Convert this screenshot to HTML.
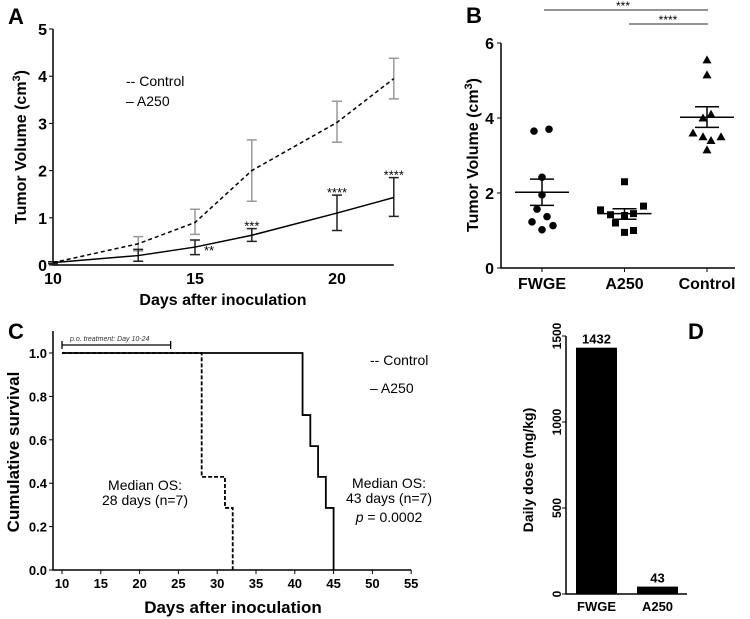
<!DOCTYPE html>
<html><head><meta charset="utf-8"><style>
body{margin:0;background:#fff}
svg{display:block;font-family:"Liberation Sans",Arial,sans-serif}
.b{font-weight:bold}
</style></head><body>
<svg id="s" width="750" height="619" viewBox="0 0 750 619">
<g id="A"></g>
<g id="B"></g>
<g id="C"></g>
<g id="D"></g>
</svg>
<script>
// Panel A data
const aDays=[10,13,15,17,20,22];
const aControl=[0.05,0.45,0.9,2.0,3.02,3.95];
const aControlLo=[0.03,0.3,0.65,1.35,2.6,3.52];
const aControlHi=[0.07,0.6,1.18,2.65,3.47,4.38];
const aA250=[0.05,0.2,0.38,0.63,1.1,1.43];
const aA250Lo=[0.03,0.08,0.22,0.5,0.73,1.03];
const aA250Hi=[0.07,0.33,0.53,0.77,1.48,1.85];
const aStars=["","","**","***","****","****"];
const aYTicks=[0,1,2,3,4,5];
const aXTicks=[10,15,20];
// Panel B data
const bCats=["FWGE","A250","Control"];
const bFWGE=[3.65,3.7,2.42,1.95,1.57,1.37,1.23,1.13,1.02];
const bA250=[2.3,1.65,1.55,1.45,1.42,1.4,1.2,1.0,0.95];
const bControl=[5.55,5.15,4.1,4.0,3.6,3.5,3.5,3.4,3.15];
const bMean=[2.02,1.45,4.02];
const bSemLo=[1.67,1.3,3.75];
const bSemHi=[2.37,1.58,4.3];
const bYTicks=[0,2,4,6];
// Panel C data
const cControlT=[10,28,31,32];
const cControlS=[1,0.429,0.286,0];
const cA250T=[10,41,42,43,44,45];
const cA250S=[1,0.714,0.571,0.429,0.286,0];
const cXTicks=[10,15,20,25,30,35,40,45,50,55];
const cYTicks=[0,0.2,0.4,0.6,0.8,1.0];
// Panel D data
const dCats=["FWGE","A250"];
const dVals=[1432,43];
const dYTicks=[0,500,1000,1500];

const NS="http://www.w3.org/2000/svg";
function mk(p,tag,at,txt){const e=document.createElementNS(NS,tag);for(const k in at)e.setAttribute(k,at[k]);if(txt!==undefined)e.textContent=txt;p.appendChild(e);return e;}

// ---- Panel A
const A=document.getElementById('A');
const ax=d=>53+(d-10)*28.4, ay=v=>265-v*47.2;
let e;
e=mk(A,'text',{x:8,y:24,'font-size':22,class:'b'},'A');
e=mk(A,'path',{d:`M53,29V265H${ax(22)}`,stroke:'#000','stroke-width':1.5,fill:'none'});
aYTicks.forEach(t=>{e=mk(A,'text',{x:47,y:ay(t)+6,'font-size':16,'text-anchor':'end',class:'b'},t);mk(A,'line',{x1:49,x2:53,y1:ay(t),y2:ay(t),stroke:'#000'});});
aXTicks.forEach(t=>{e=mk(A,'text',{x:ax(t),y:284,'font-size':16,'text-anchor':'middle',class:'b'},t);});
e=mk(A,'text',{x:223,y:305,'font-size':16,'text-anchor':'middle',class:'b'},'Days after inoculation');
e=mk(A,'text',{transform:'translate(26,147) rotate(-90)','font-size':16,'text-anchor':'middle',class:'b'});
e.innerHTML='Tumor Volume (cm<tspan dy="-6" font-size="11">3</tspan><tspan dy="6">)</tspan>';
function errs(days,lo,hi,col){days.forEach((d,i)=>{const x=ax(d);e=mk(A,'path',{d:`M${x},${ay(lo[i])}V${ay(hi[i])}M${x-5},${ay(lo[i])}h10M${x-5},${ay(hi[i])}h10`,stroke:col,'stroke-width':1.5,fill:'none'});});}
errs(aDays,aControlLo,aControlHi,'#999');
errs(aDays,aA250Lo,aA250Hi,'#222');
e=mk(A,'path',{d:'M'+aDays.map((d,i)=>ax(d)+','+ay(aControl[i])).join('L'),stroke:'#000','stroke-width':1.5,fill:'none','stroke-dasharray':'4,3'});
e=mk(A,'path',{d:'M'+aDays.map((d,i)=>ax(d)+','+ay(aA250[i])).join('L'),stroke:'#000','stroke-width':1.5,fill:'none'});
aDays.forEach((d,i)=>{if(!aStars[i])return;const x=i==2?ax(d)+14:ax(d);const y=i==2?ay(aA250[i])+2:ay(aA250Hi[i])-4;e=mk(A,'text',{x:x,y:y+6,'font-size':13,'text-anchor':'middle'},aStars[i]);});
e=mk(A,'text',{x:126,y:86,'font-size':14},'-- Control');
e=mk(A,'text',{x:126,y:106,'font-size':14},'– A250');

// ---- Panel B
const B=document.getElementById('B');
const bx=i=>542+i*82.5, by=v=>268-v*37.5;
e=mk(B,'text',{x:466,y:23,'font-size':22,class:'b'},'B');
e=mk(B,'path',{d:'M501,43V268H735',stroke:'#000','stroke-width':1.5,fill:'none'});
bYTicks.forEach(t=>{e=mk(B,'text',{x:494,y:by(t)+6,'font-size':16,'text-anchor':'end',class:'b'},t);mk(B,'line',{x1:497,x2:501,y1:by(t),y2:by(t),stroke:'#000'});});
bCats.forEach((c,i)=>{e=mk(B,'text',{x:bx(i),y:289,'font-size':16,'text-anchor':'middle',class:'b'},c);mk(B,'line',{x1:bx(i),x2:bx(i),y1:268,y2:272,stroke:'#000'});});
e=mk(B,'text',{transform:'translate(478,155) rotate(-90)','font-size':16,'text-anchor':'middle',class:'b'});
e.innerHTML='Tumor Volume (cm<tspan dy="-6" font-size="11">3</tspan><tspan dy="6">)</tspan>';
const offs=[[-8,7,0,0,-5,5,-10,11,0],[0,19,-24,9,-14,0,-9,9,0],[0,0,4,-4,-14,-4,14,4,0]];
[bFWGE,bA250,bControl].forEach((arr,g)=>{arr.forEach((v,k)=>{const x=bx(g)+(offs[g][k]||0),y=by(v);
if(g==0)e=mk(B,'circle',{cx:x,cy:y,r:3.8,fill:'#000'});
else if(g==1)e=mk(B,'rect',{x:x-3.5,y:y-3.5,width:7,height:7,fill:'#000'});
else e=mk(B,'path',{d:`M${x},${y-4.5}L${x+4.5},${y+3.5}H${x-4.5}Z`,fill:'#000'});
});});
bMean.forEach((m,i)=>{const x=bx(i);e=mk(B,'path',{d:`M${x-27},${by(m)}h54M${x-12},${by(bSemLo[i])}h24M${x-12},${by(bSemHi[i])}h24M${x},${by(bSemLo[i])}V${by(bSemHi[i])}`,stroke:'#000','stroke-width':1.5,fill:'none'});});
e=mk(B,'line',{x1:544,x2:708,y1:10,y2:10,stroke:'#555','stroke-width':1.3});
e=mk(B,'text',{x:623,y:10,'font-size':12,'text-anchor':'middle'},'***');
e=mk(B,'line',{x1:629,x2:708,y1:24,y2:24,stroke:'#555','stroke-width':1.3});
e=mk(B,'text',{x:668,y:24,'font-size':12,'text-anchor':'middle'},'****');

// ---- Panel C
const C=document.getElementById('C');
const cx=d=>62+(d-10)*7.76, cy=v=>570-v*217;
e=mk(C,'text',{x:8,y:339,'font-size':22,class:'b'},'C');
e=mk(C,'path',{d:`M53,331V570H${cx(55)}`,stroke:'#000','stroke-width':1.5,fill:'none'});
cYTicks.forEach(t=>{e=mk(C,'text',{x:47,y:cy(t)+5,'font-size':13,'text-anchor':'end',class:'b'},t.toFixed(1));mk(C,'line',{x1:49,x2:53,y1:cy(t),y2:cy(t),stroke:'#000'});});
cXTicks.forEach(t=>{e=mk(C,'text',{x:cx(t),y:588,'font-size':13,'text-anchor':'middle',class:'b'},t);mk(C,'line',{x1:cx(t),x2:cx(t),y1:570,y2:574,stroke:'#000'});});
e=mk(C,'text',{x:233,y:613,'font-size':17,'text-anchor':'middle',class:'b'},'Days after inoculation');
e=mk(C,'text',{transform:'translate(19,452) rotate(-90)','font-size':17,'text-anchor':'middle',class:'b'},'Cumulative survival');
function km(T,S){let d=`M${cx(T[0])},${cy(S[0])}`;for(let i=1;i<T.length;i++)d+=`H${cx(T[i])}V${cy(S[i])}`;return d;}
e=mk(C,'path',{d:km(cA250T,cA250S),stroke:'#000','stroke-width':1.8,fill:'none'});
e=mk(C,'path',{d:km(cControlT,cControlS),stroke:'#000','stroke-width':1.8,fill:'none','stroke-dasharray':'4,2'});
e=mk(C,'path',{d:`M${cx(10)},341V349M${cx(10)},345H${cx(24)}M${cx(24)},341V349`,stroke:'#000','stroke-width':1.3,fill:'none'});
e=mk(C,'text',{x:70,y:341,'font-size':7,'font-style':'italic',fill:'#333'},'p.o. treatment: Day 10-24');
e=mk(C,'text',{x:145,y:490,'font-size':14,'text-anchor':'middle'},'Median OS:');
e=mk(C,'text',{x:145,y:505,'font-size':14,'text-anchor':'middle'},'28 days (n=7)');
e=mk(C,'text',{x:389,y:488,'font-size':14,'text-anchor':'middle'},'Median OS:');
e=mk(C,'text',{x:389,y:503,'font-size':14,'text-anchor':'middle'},'43 days (n=7)');
e=mk(C,'text',{x:389,y:522,'font-size':14,'text-anchor':'middle'});
e.innerHTML='<tspan font-style="italic">p</tspan> = 0.0002';
e=mk(C,'text',{x:370,y:365,'font-size':14},'-- Control');
e=mk(C,'text',{x:370,y:393,'font-size':14},'– A250');

// ---- Panel D
const D=document.getElementById('D');
const dy=v=>594-v*0.172, dx=i=>576+i*61;
e=mk(D,'text',{x:688,y:339,'font-size':22,class:'b'},'D');
e=mk(D,'path',{d:'M566,336V594H687',stroke:'#000','stroke-width':1.5,fill:'none'});
dYTicks.forEach(t=>{e=mk(D,'text',{transform:`translate(561,${dy(t)}) rotate(-90)`,'font-size':12,'text-anchor':'middle',class:'b'},t);mk(D,'line',{x1:562,x2:566,y1:dy(t),y2:dy(t),stroke:'#000'});});
e=mk(D,'text',{transform:'translate(533,470) rotate(-90)','font-size':14,'text-anchor':'middle',class:'b'},'Daily dose (mg/kg)');
dVals.forEach((v,i)=>{e=mk(D,'rect',{x:dx(i),y:dy(v),width:41,height:594-dy(v),fill:'#000'});
e=mk(D,'text',{x:dx(i)+20.5,y:dy(v)-4,'font-size':13,'text-anchor':'middle',class:'b'},v);
e=mk(D,'text',{x:dx(i)+20.5,y:611,'font-size':13,'text-anchor':'middle',class:'b'},dCats[i]);});
</script>
</body></html>
